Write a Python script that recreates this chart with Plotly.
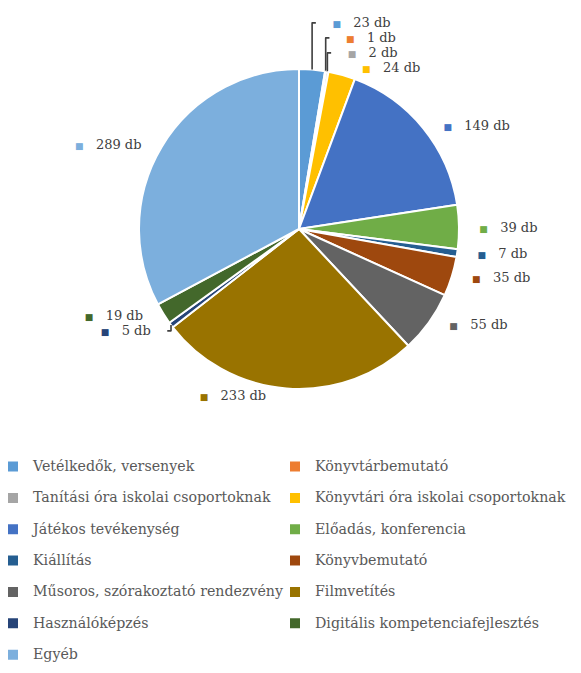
import plotly.graph_objects as go

# categories and counts
categories = [
    "Vetélkedők, versenyek",
    "Könyvtárbemutató",
    "Tanítási óra iskolai csoportoknak",
    "Könyvtári óra iskolai csoportoknak",
    "Játékos tevékenység",
    "Előadás, konferencia",
    "Kiállítás",
    "Könyvbemutató",
    "Műsoros, szórakoztató rendezvény",
    "Filmvetítés",
    "Használóképzés",
    "Digitális kompetenciafejlesztés",
    "Egyéb",
]
counts = [23, 1, 2, 24, 149, 39, 7, 35, 55, 233, 5, 19, 289]
colors = [
    "#5B9BD5", "#ED7D31", "#A5A5A5", "#FFC000", "#4472C4", "#70AD47",
    "#255E91", "#9E480E", "#636363", "#997300", "#264478", "#43682B",
    "#7CAFDD",
]
unit = "db"

W, H = 581, 673
cx, cy, r = 291, 221, 160  # pie centre and radius in px

pad = "\u00a0" * 4
# slice labels with a small colour key in front, like the original
slice_text = [
    "%s<span style='color:%s;font-size:9px'>■</span>\u00a0\u00a0\u00a0%d %s%s" % (pad, c, v, unit, pad)
    for c, v in zip(colors, counts)
]
# a blank second line makes the legend rows taller
legend_names = ["<span style='font-size:14.2px'>%s</span><br> " % c for c in categories]

fig = go.Figure(
    go.Pie(
        labels=legend_names,
        values=counts,
        text=slice_text,
        textinfo="text",
        textposition="outside",
        sort=False,
        direction="clockwise",
        rotation=0,
        marker=dict(colors=colors, line=dict(color="white", width=2)),
        textfont=dict(family="DejaVu Serif", size=13, color="#404040"),
        domain=dict(
            x=[(cx - r) / W, (cx + r) / W],
            y=[1 - (cy + r) / H, 1 - (cy - r) / H],
        ),
        hoverinfo="skip",
    )
)

fig.update_layout(
    width=W,
    height=H,
    margin=dict(l=0, r=0, t=0, b=0, autoexpand=False),
    paper_bgcolor="white",
    plot_bgcolor="white",
    font=dict(family="DejaVu Serif", color="#595959"),
    legend=dict(
        orientation="h",
        x=0,
        xanchor="left",
        y=1 - 445 / H,
        yanchor="top",
        entrywidth=252,
        entrywidthmode="pixels",
        indentation=-15,
        valign="top",
        traceorder="normal",
        font=dict(family="DejaVu Serif", size=10.9, color="#595959"),
    ),
)

fig.write_html("out.html")
